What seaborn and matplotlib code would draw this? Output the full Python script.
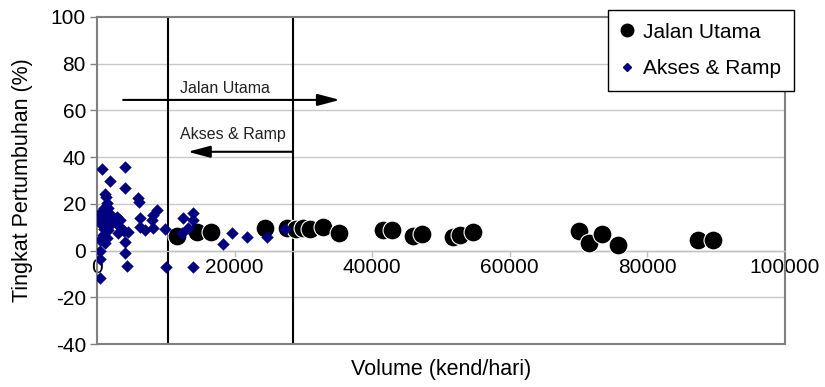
import numpy as np
import pandas as pd
import seaborn as sns
import matplotlib.pyplot as plt
from matplotlib.lines import Line2D

# Jalan Utama (main road) points
jalan_vol = [11600, 14500, 16600, 24400, 27600, 28900, 29900, 31000, 32800, 35200,
             41600, 42900, 45900, 47200, 51700, 52800, 54700,
             70100, 71500, 73400, 75700, 87400, 89500]
jalan_growth = [6.3, 8.0, 8.0, 9.7, 9.7, 9.2, 9.7, 9.4, 10.1, 7.5,
                8.8, 8.8, 6.3, 7.1, 5.8, 6.7, 8.0,
                8.4, 3.3, 7.1, 2.4, 4.5, 4.5]

# Akses & Ramp points
akses_vol = [1300, 1450, 1000, 1600, 450, 1150, 1900, 300, 900, 1600, 2300, 2900,
             600, 1300, 2000, 2600, 3300, 1000, 1600, 900, 1450, 1150, 3500, 3050,
             3900, 450,
             700, 4100, 1900, 4100, 6000, 6100, 1200, 8700, 8100, 6300, 8000, 4500,
             6300, 7000, 9900, 4100, 4100, 400, 400, 4400, 10000, 400, 8100,
             12500, 14000, 14000, 13200, 12400, 19600, 18300, 21800, 24700, 27300,
             14000]
akses_growth = [22.9, 20.4, 18.2, 18.2, 16.1, 16.1, 15.7, 14.0, 13.5, 14.0, 13.5, 14.4,
                11.4, 11.8, 11.4, 12.2, 13.1, 9.2, 8.8, 6.7, 5.4, 3.3, 9.7, 7.5,
                8.4, 4.5,
                34.9, 35.7, 29.8, 26.9, 22.6, 20.9, 24.1, 17.4, 15.2, 13.8, 13.1, 8.1,
                10.2, 8.8, 9.2, 3.5, -1.2, -0.2, -3.7, -6.6, -6.9, -11.9, 9.7,
                13.8, 16.0, 13.1, 9.5, 7.4, 7.4, 2.7, 5.7, 5.7, 9.1,
                -6.9]

boundaries = [10300, 28500]
x_ticks = [0, 20000, 40000, 60000, 80000, 100000]
y_ticks = [-40, -20, 0, 20, 40, 60, 80, 100]

df_j = pd.DataFrame({"vol": jalan_vol, "growth": jalan_growth})
df_a = pd.DataFrame({"vol": akses_vol, "growth": akses_growth})

sns.set_style("white")
plt.rcParams["font.family"] = ["Liberation Sans", "DejaVu Sans"]
plt.rcParams["axes.unicode_minus"] = False
plt.rcParams["text.color"] = "black"
plt.rcParams["axes.labelcolor"] = "black"

fig = plt.figure(figsize=(8.25, 3.87), dpi=100)
ax = fig.add_axes([97/825, 1-344/387, (785-97)/825, (344-17)/387])

sns.scatterplot(data=df_j, x="vol", y="growth", ax=ax, marker="o", s=185,
                color="black", edgecolor="white", linewidth=0.8, zorder=3)
sns.scatterplot(data=df_a, x="vol", y="growth", ax=ax, marker="D", s=36,
                color="#000080", edgecolor="#000080", linewidth=0.3, zorder=4)

ax.set_xlim(0, 100000)
ax.set_ylim(-40, 100)
ax.set_yticks(y_ticks)
ax.set_xticks(x_ticks)
ax.set_xticklabels([str(v) for v in x_ticks])
ax.set_yticklabels([str(v) for v in y_ticks])

for y in y_ticks[1:-1]:
    ax.axhline(y, color="#c8c8c8", lw=1, zorder=0)

# x axis sits at y=0 like the original spreadsheet chart
ax.spines["bottom"].set_position(("data", 0))
for s in ["top", "left", "right", "bottom"]:
    ax.spines[s].set_color("#808080")
    ax.spines[s].set_linewidth(1.5)
ax.spines["bottom"].set_linewidth(1)
ax.spines["bottom"].set_color("#c0c0c0")
ax.axhline(-40, color="#808080", lw=1.5, clip_on=False, zorder=5)

ax.tick_params(axis="y", direction="out", length=5, width=1, color="#808080",
               labelsize=15, labelcolor="black", pad=3, left=True)
ax.tick_params(axis="x", direction="out", length=4, width=1, color="#c0c0c0",
               labelsize=15, labelcolor="black", pad=1, bottom=True)

for b in boundaries:
    ax.axvline(b, color="black", lw=1.5, zorder=2)

ax.annotate("", xy=(35300, 64.5), xytext=(3800, 64.5),
            arrowprops=dict(arrowstyle="-|>,head_length=0.68,head_width=0.18",
                            color="black", lw=1.5, mutation_scale=20, shrinkA=0, shrinkB=0))
ax.annotate("", xy=(13200, 42.3), xytext=(28500, 42.3),
            arrowprops=dict(arrowstyle="-|>,head_length=0.68,head_width=0.18",
                            color="black", lw=1.5, mutation_scale=20, shrinkA=0, shrinkB=0))
ax.text(18600, 69.6, "Jalan Utama", ha="center", va="center", fontsize=11.5, color="#222222")
ax.text(19800, 49.9, "Akses & Ramp", ha="center", va="center", fontsize=11.5, color="#222222")

ax.set_xlabel("Volume (kend/hari)", fontsize=15.5)
ax.set_ylabel("Tingkat Pertumbuhan (%)", fontsize=15.5)
ax.xaxis.set_label_coords(0.5, -0.045)
ax.yaxis.set_label_coords(-0.093, 0.5)

handles = [Line2D([], [], marker="o", color="black", linestyle="none", markersize=9),
           Line2D([], [], marker="D", color="#000080", linestyle="none", markersize=4.5)]
leg = ax.legend(handles, ["Jalan Utama", "Akses & Ramp"], loc="upper left",
                bbox_to_anchor=(608/825, 1-10/387), bbox_transform=fig.transFigure,
                fontsize=15, frameon=True, fancybox=False, framealpha=1,
                edgecolor="black", handlelength=0.6, handletextpad=0.5,
                labelspacing=0.85, borderpad=0.6, borderaxespad=0)
leg.get_frame().set_linewidth(1)
leg.set_zorder(10)
for t in leg.get_texts():
    t.set_color("black")

fig.savefig("out.png", dpi=100)
